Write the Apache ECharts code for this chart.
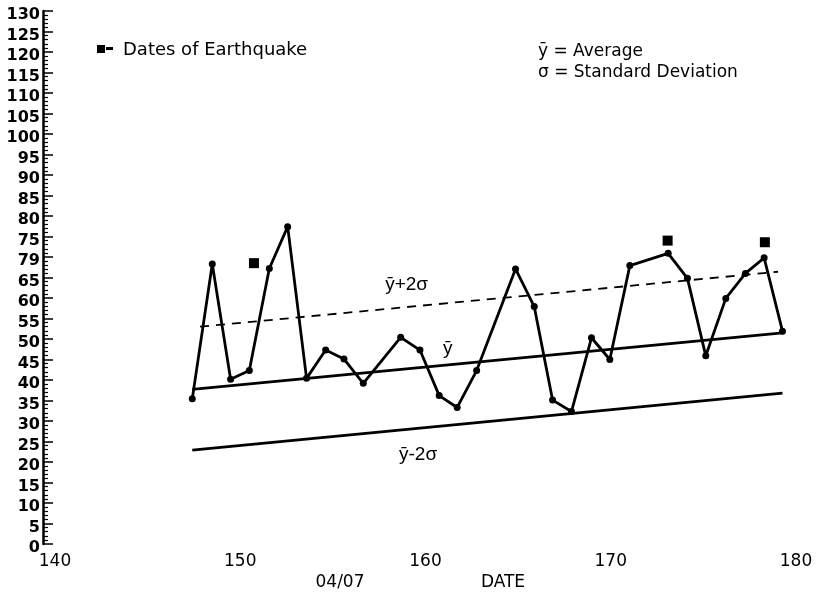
<!DOCTYPE html>
<html>
<head>
<meta charset="utf-8">
<script src="https://cdn.jsdelivr.net/npm/echarts@6/dist/echarts.min.js"></script>
<style>html,body{margin:0;padding:0;background:#fff}#c{width:821px;height:596px}</style>
</head>
<body>
<div id="c"></div>
<script>
// ---- data ----
const days = [147.41,148.49,149.48,150.49,151.57,152.56,153.58,154.61,155.60,156.64,
              158.66,159.70,160.74,161.71,162.76,164.86,165.87,166.86,167.88,168.96,
              169.95,171.03,173.10,174.14,175.13,176.21,177.27,178.28,179.27];
const values = [35.4,68.3,40.2,42.3,67.2,77.4,40.4,47.3,45.1,39.2,
                50.4,47.3,36.2,33.3,42.3,67.1,57.9,35.1,32.3,50.3,
                45.0,67.9,70.9,64.8,45.9,59.9,66.0,69.8,51.9];
const quakeDays = [150.74,173.07,178.32];
const quakeValues = [68.5,74.0,73.6];
const avgDays = [147.41,179.27];
const avgValues = [37.7,51.5];
const upperDays = [147.83,179.03];
const upperValues = [53.0,66.4];
const lowerDays = [147.41,179.27];
const lowerValues = [22.9,36.8];
const lineLabels = ['ȳ+2σ','ȳ','ȳ-2σ'];
const lineLabelDays = [158.98,161.2,159.6];
const lineLabelValues = [63.2,47.6,21.7];
const yTickLabels = ['0','5','10','15','20','25','30','35','40','45','50','55','60','65',
                     '79','75','80','85','90','95','100','105','110','115','120','125','130'];
const xTickLabels = ['140','150','160','170','180'];

const zip = (a,b) => a.map((v,i)=>[v,b[i]]);
const FONT = 'DejaVu Sans, Liberation Sans, Arial, sans-serif';
const FONT2 = 'Liberation Sans, Arial, sans-serif';

const chart = echarts.init(document.getElementById('c'), null, {renderer:'canvas'});
chart.setOption({
  animation:false,
  backgroundColor:'#fff',
  grid:{left:55,right:25,top:11,bottom:52,containLabel:false},
  xAxis:{
    type:'value',min:140,max:180,interval:10,
    axisLine:{show:false},axisTick:{show:false},splitLine:{show:false},
    axisLabel:{fontFamily:FONT,fontSize:17,color:'#000',margin:9,
      formatter:(v)=>xTickLabels[Math.round((v-140)/10)]}
  },
  yAxis:{
    type:'value',min:0,max:130,interval:5,offset:12,
    axisLine:{show:true,lineStyle:{color:'#000',width:2.5}},
    axisTick:{show:true,inside:true,length:10,lineStyle:{color:'#000',width:1.5}},
    minorTick:{show:true,splitNumber:5,length:5,lineStyle:{color:'#000',width:1.2}},
    splitLine:{show:false},
    axisLabel:{fontFamily:FONT,fontSize:16,fontWeight:'bold',color:'#000',margin:3,
      verticalAlign:'top',lineHeight:8,
      formatter:(v)=>yTickLabels[Math.round(v/5)]}
  },
  graphic:[
    {type:'rect',shape:{x:97,y:45,width:8,height:8},style:{fill:'#000'}},
    {type:'rect',shape:{x:106,y:47,width:7,height:3},style:{fill:'#000'}},
    {type:'text',x:123,y:50,style:{text:'Dates of Earthquake',font:'18px '+FONT,fill:'#000',textVerticalAlign:'middle'}},
    {type:'text',x:538,y:52,style:{text:'ȳ = Average',font:'17px '+FONT,fill:'#000',textVerticalAlign:'middle'}},
    {type:'text',x:538,y:73,style:{text:'σ = Standard Deviation',font:'17px '+FONT,fill:'#000',textVerticalAlign:'middle'}},
    {type:'text',x:340,y:583,style:{text:'04/07',font:'17px '+FONT,fill:'#000',textAlign:'center',textVerticalAlign:'middle'}},
    {type:'text',x:503,y:583,style:{text:'DATE',font:'17px '+FONT,fill:'#000',textAlign:'center',textVerticalAlign:'middle'}}
  ],
  series:[
    {type:'line',data:zip(avgDays,avgValues),symbol:'none',lineStyle:{color:'#000',width:2.8},silent:true},
    {type:'line',data:zip(upperDays,upperValues),symbol:'none',lineStyle:{color:'#000',width:1.8,type:[9,7]},silent:true},
    {type:'line',data:zip(lowerDays,lowerValues),symbol:'none',lineStyle:{color:'#000',width:2.8},silent:true},
    {type:'line',data:zip(days,values),symbol:'circle',symbolSize:7,
      itemStyle:{color:'#000',opacity:1},lineStyle:{color:'#000',width:2.8}},
    {type:'scatter',data:zip(quakeDays,quakeValues),symbol:'rect',symbolSize:10,itemStyle:{color:'#000',opacity:1}},
    {type:'scatter',data:lineLabels.map((t,i)=>({name:t,value:[lineLabelDays[i],lineLabelValues[i]]})),
      symbolSize:0,itemStyle:{color:'#fff',opacity:1},
      label:{show:true,position:'inside',formatter:(p)=>p.name,fontFamily:FONT2,fontSize:19,color:'#000',opacity:1}}
  ]
});
</script>
</body>
</html>
